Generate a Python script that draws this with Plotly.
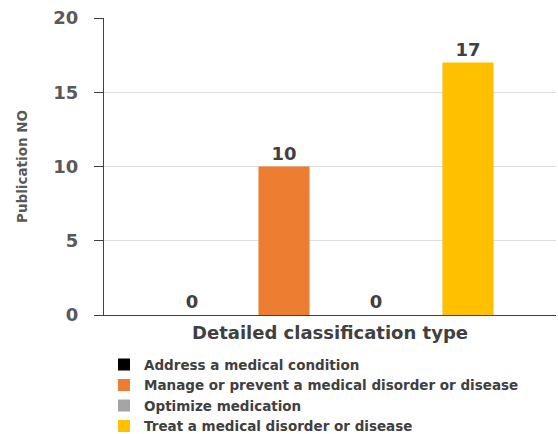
import plotly.graph_objects as go

# Publication counts per detailed classification type
series_names = [
    "Address a medical condition",
    "Manage or prevent a medical disorder or disease",
    "Optimize medication",
    "Treat a medical disorder or disease",
]
publication_counts = [0, 10, 0, 17]
series_colors = ["#000000", "#ED7D31", "#A5A5A5", "#FFC000"]
category = ["Detailed classification type"]
y_ticks = [0, 5, 10, 15, 20]

FONT = "DejaVu Sans, Noto Sans, sans-serif"

fig = go.Figure()
for name, count, color in zip(series_names, publication_counts, series_colors):
    fig.add_trace(go.Bar(
        name=name,
        x=category,
        y=[count],
        marker=dict(color=color, line=dict(width=0)),
        text=[str(count)],
        textposition="outside",
        cliponaxis=False,
        textfont=dict(family=FONT, size=18, color="#404040", weight="bold"),
    ))

fig.update_layout(
    width=558,
    height=434,
    margin=dict(l=104, r=2, t=18, b=119, autoexpand=False),
    paper_bgcolor="white",
    plot_bgcolor="white",
    barmode="group",
    bargap=0.186,
    bargroupgap=0.445,
    font=dict(family=FONT, color="#595959"),
    showlegend=True,
    legend=dict(
        x=0.0,
        y=-0.115,
        xanchor="left",
        yanchor="top",
        orientation="v",
        font=dict(family=FONT, size=13.5, color="#404040", weight="bold"),
        itemwidth=30,
        tracegroupgap=0,
        bgcolor="rgba(0,0,0,0)",
    ),
    xaxis=dict(
        showticklabels=False,
        ticks="",
        showline=True,
        linecolor="#404040",
        linewidth=1,
        title=dict(
            text="Detailed classification type",
            font=dict(family=FONT, size=18, color="#404040", weight="bold"),
            standoff=11,
        ),
    ),
    yaxis=dict(
        range=[0, 20],
        tickvals=y_ticks,
        ticks="outside",
        ticklen=9,
        tickcolor="#404040",
        ticklabelstandoff=12,
        showline=True,
        linecolor="#404040",
        linewidth=1,
        showgrid=True,
        gridcolor="#DDDDDD",
        zeroline=False,
        tickfont=dict(family=FONT, size=18, color="#595959", weight="bold"),
        title=dict(
            text="Publication NO",
            font=dict(family=FONT, size=13.5, color="#595959", weight="bold"),
            standoff=22,
        ),
    ),
)

fig.write_html("out.html")
